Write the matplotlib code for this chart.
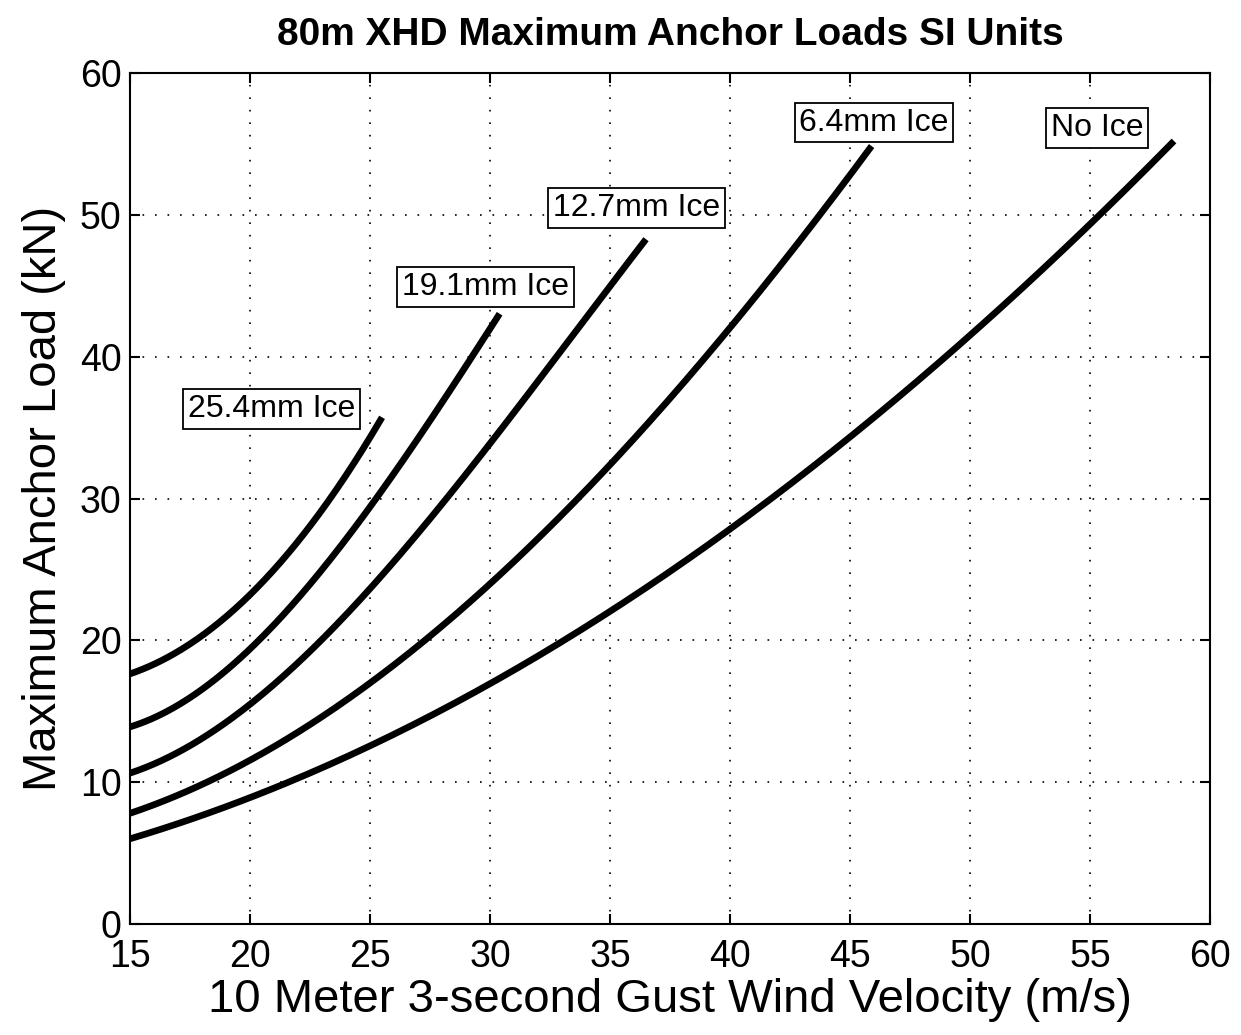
import matplotlib
matplotlib.use("Agg")
import matplotlib.pyplot as plt
import numpy as np

plt.rcParams['font.family'] = ['Liberation Sans', 'DejaVu Sans']

title = "80m XHD Maximum Anchor Loads SI Units"
xlabel = "10 Meter 3-second Gust Wind Velocity (m/s)"
ylabel = "Maximum Anchor Load (kN)"

x_noice = [15, 20, 25, 30, 35, 40, 45, 50, 55, 58.5]
y_noice = [6.0, 8.9, 12.6, 17.0, 22.0, 27.8, 34.3, 41.5, 49.5, 55.1]

x_64 = [15, 20, 25, 30, 35, 40, 45, 45.9]
y_64 = [7.7, 11.8, 17.0, 23.6, 32.6, 42.1, 52.8, 54.8]

x_127 = [15, 20, 25, 30, 35, 36.5]
y_127 = [10.7, 15.3, 23.8, 34.0, 44.5, 48.6]

x_191 = [15, 20, 25, 30, 30.4]
y_191 = [13.9, 19.4, 29.4, 42.0, 43.0]

x_254 = [15, 17.5, 20, 22.5, 25, 25.5]
y_254 = [17.6, 19.9, 23.0, 28.2, 34.3, 35.7]

series = [
    (x_noice, y_noice, "No Ice", 55.3, 56.1),
    (x_64, y_64, "6.4mm Ice", 46.0, 56.5),
    (x_127, y_127, "12.7mm Ice", 36.1, 50.5),
    (x_191, y_191, "19.1mm Ice", 29.8, 44.9),
    (x_254, y_254, "25.4mm Ice", 20.9, 36.3),
]

xticks = [15, 20, 25, 30, 35, 40, 45, 50, 55, 60]
yticks = [0, 10, 20, 30, 40, 50, 60]

fig = plt.figure(figsize=(12.41, 10.35), dpi=100)
ax = fig.add_axes([0.1048, 0.1072, 0.8702, 0.8223])

for xs, ys, lab, lx, ly in series:
    xs_a = np.array(xs, float)
    ys_a = np.array(ys, float)
    # light smoothing of the read points
    coef = np.polyfit(xs_a, ys_a, 3)
    xf = np.linspace(xs_a[0], xs_a[-1], 200)
    yf = np.polyval(coef, xf)
    ax.plot(xf, yf, color='black', lw=4.8, solid_capstyle='butt')
    ax.text(lx, ly, lab, fontsize=23, ha='center', va='center', color='black',
            bbox=dict(boxstyle='square,pad=0.15', fc='white', ec='black', lw=1.3))

ax.set_xlim(15, 60)
ax.set_ylim(0, 60)
ax.set_xticks(xticks)
ax.set_yticks(yticks)
ax.tick_params(direction='in', top=True, right=True, length=7, width=1.5,
               labelsize=27)
ax.tick_params(axis='x', pad=11)
ax.tick_params(axis='y', pad=6)
ax.grid(True, color='black', linestyle=(0, (1, 6.5)), linewidth=1.2)
for s in ax.spines.values():
    s.set_linewidth(1.5)

ax.set_title(title, fontsize=28, fontweight='bold', pad=20)
ax.set_xlabel(xlabel, fontsize=34, labelpad=2)
ax.set_ylabel(ylabel, fontsize=34, labelpad=10)

fig.savefig("out.png", dpi=100)
